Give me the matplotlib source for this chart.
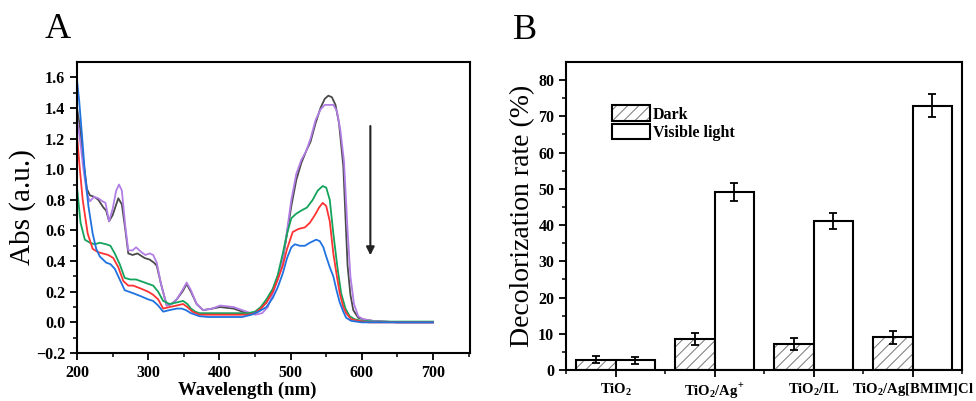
import numpy as np
import matplotlib
matplotlib.use("Agg")
import matplotlib.pyplot as plt
from matplotlib.patches import Patch

plt.rcParams['font.family'] = ['Liberation Serif', 'DejaVu Serif']
plt.rcParams['mathtext.fontset'] = 'custom'
plt.rcParams['mathtext.rm'] = 'Liberation Serif'
plt.rcParams['mathtext.bf'] = 'Liberation Serif:bold'
plt.rcParams['hatch.linewidth'] = 0.7

# ---------- panel A: UV-vis spectra ----------
wl_black = [200, 204, 209, 214, 218, 224, 230, 237, 241, 245, 250, 258, 263, 268, 272, 278, 285, 295,
            302, 308, 312, 318, 326, 333, 340, 348, 354, 360, 368, 377, 390, 401, 420, 438, 450, 456,
            466, 475, 482, 489, 495, 501, 508, 515, 522, 528, 535, 542, 548, 553, 558, 563, 568, 574,
            580, 584, 588, 595, 602, 615, 650, 700]
abs_black = [1.40, 1.28, 1.05, 0.87, 0.83, 0.82, 0.80, 0.75, 0.73, 0.66, 0.70, 0.81, 0.77, 0.60, 0.45,
             0.44, 0.45, 0.42, 0.41, 0.39, 0.37, 0.25, 0.11, 0.12, 0.15, 0.20, 0.25, 0.20, 0.12, 0.08,
             0.09, 0.10, 0.09, 0.06, 0.06, 0.08, 0.13, 0.21, 0.30, 0.41, 0.58, 0.76, 0.93, 1.04, 1.12,
             1.18, 1.30, 1.40, 1.46, 1.48, 1.47, 1.42, 1.30, 1.02, 0.37, 0.18, 0.08, 0.03, 0.02, 0.01,
             0.0, 0.0]

wl_purple = [200, 204, 209, 214, 218, 224, 230, 236, 240, 245, 250, 255, 259, 263, 268, 272, 278, 283,
             290, 296, 302, 307, 312, 318, 326, 333, 340, 348, 354, 360, 368, 377, 390, 401, 420, 438,
             450, 460, 468, 476, 483, 489, 495, 501, 508, 515, 522, 528, 535, 542, 548, 554, 560, 565,
             570, 575, 580, 584, 589, 595, 602, 615, 650, 700]
abs_purple = [1.33, 1.20, 1.00, 0.84, 0.79, 0.82, 0.81, 0.79, 0.78, 0.66, 0.74, 0.86, 0.90, 0.86, 0.62,
              0.47, 0.47, 0.49, 0.46, 0.44, 0.45, 0.44, 0.39, 0.25, 0.11, 0.12, 0.15, 0.21, 0.26, 0.21,
              0.12, 0.08, 0.09, 0.11, 0.10, 0.07, 0.05, 0.06, 0.10, 0.20, 0.30, 0.41, 0.60, 0.80, 0.97,
              1.06, 1.12, 1.20, 1.32, 1.39, 1.42, 1.42, 1.42, 1.38, 1.25, 1.05, 0.60, 0.30, 0.12, 0.04,
              0.02, 0.01, 0.0, 0.0]

wl_green = [200, 205, 211, 218, 225, 232, 241, 247, 253, 260, 267, 275, 283, 295, 307, 314, 321, 330,
            340, 349, 355, 360, 366, 372, 385, 410, 440, 450, 458, 466, 475, 482, 489, 495, 501, 508,
            515, 523, 531, 538, 545, 550, 555, 560, 566, 571, 577, 583, 590, 600, 620, 700]
abs_green = [0.88, 0.65, 0.54, 0.52, 0.51, 0.52, 0.51, 0.50, 0.45, 0.38, 0.29, 0.28, 0.28, 0.26, 0.24,
             0.20, 0.14, 0.12, 0.13, 0.14, 0.12, 0.09, 0.07, 0.06, 0.06, 0.06, 0.06, 0.07, 0.10, 0.15,
             0.22, 0.31, 0.45, 0.58, 0.68, 0.71, 0.73, 0.75, 0.80, 0.86, 0.89, 0.88, 0.80, 0.58, 0.35,
             0.19, 0.09, 0.04, 0.02, 0.01, 0.005, 0.005]

wl_red = [200, 204, 208, 215, 222, 229, 236, 244, 251, 258, 265, 272, 279, 290, 300, 307, 314, 321,
          330, 340, 349, 355, 362, 372, 385, 410, 440, 450, 458, 466, 475, 482, 489, 495, 503, 511,
          520, 527, 534, 540, 545, 550, 555, 560, 565, 569, 574, 578, 585, 595, 610, 700]
abs_red = [1.22, 1.00, 0.80, 0.58, 0.48, 0.46, 0.45, 0.44, 0.42, 0.36, 0.27, 0.24, 0.24, 0.22, 0.20,
           0.18, 0.15, 0.09, 0.10, 0.11, 0.12, 0.10, 0.07, 0.05, 0.05, 0.05, 0.05, 0.06, 0.09, 0.13,
           0.20, 0.28, 0.37, 0.48, 0.59, 0.61, 0.62, 0.65, 0.70, 0.75, 0.78, 0.76, 0.66, 0.45, 0.30,
           0.19, 0.10, 0.06, 0.02, 0.01, 0.0, 0.0]

wl_blue = [200, 203, 207, 211, 216, 222, 227, 232, 241, 247, 253, 260, 267, 273, 279, 290, 300, 307,
           314, 321, 330, 340, 347, 353, 360, 372, 385, 410, 432, 445, 455, 466, 475, 482, 489, 495,
           501, 506, 513, 520, 527, 536, 541, 546, 550, 555, 560, 565, 569, 574, 578, 585, 600, 700]
abs_blue = [1.58, 1.45, 1.22, 0.98, 0.76, 0.58, 0.48, 0.43, 0.39, 0.38, 0.35, 0.28, 0.21, 0.20, 0.19,
            0.17, 0.15, 0.14, 0.11, 0.07, 0.08, 0.09, 0.09, 0.08, 0.06, 0.04, 0.035, 0.035, 0.035, 0.05,
            0.07, 0.10, 0.16, 0.23, 0.32, 0.42, 0.49, 0.51, 0.50, 0.50, 0.52, 0.54, 0.53, 0.49, 0.43,
            0.36, 0.30, 0.20, 0.13, 0.07, 0.03, 0.01, 0.0, 0.0]

spectra = [
    (wl_black, abs_black, '#4a4a4a'),
    (wl_purple, abs_purple, '#b27ee6'),
    (wl_green, abs_green, '#14a35c'),
    (wl_red, abs_red, '#ff3333'),
    (wl_blue, abs_blue, '#1f72e0'),
]

# ---------- panel B: decolorization rate ----------
samples = ['TiO$_\\mathbf{2}$', 'TiO$_\\mathbf{2}$/Ag$^\\mathbf{+}$', 'TiO$_\\mathbf{2}$/IL',
           'TiO$_\\mathbf{2}$/Ag[BMIM]Cl']
dark = [2.8, 8.6, 7.2, 9.0]
dark_err = [1.0, 1.6, 1.7, 1.8]
visible = [2.7, 49.1, 41.1, 73.0]
visible_err = [1.0, 2.4, 2.3, 3.3]

fig = plt.figure(figsize=(9.76, 4.01), dpi=100)

axA = fig.add_axes([0.0789, 0.1197, 0.4027, 0.7257])
for wl, ab, col in spectra:
    axA.plot(wl, ab, color=col, lw=1.3)
axA.annotate('', xy=(612, 0.42), xytext=(612, 1.30),
             arrowprops=dict(arrowstyle='-|>', color='#222222', lw=1.5, mutation_scale=12))
axA.set_xlim(200, 752)
axA.set_ylim(-0.2, 1.7)
axA.set_xticks(np.arange(200, 701, 100))
axA.set_xticks(np.arange(250, 751, 100), minor=True)
axA.set_yticks(np.arange(-0.2, 1.61, 0.2))
axA.set_yticks(np.arange(-0.1, 1.7, 0.2), minor=True)
axA.set_yticklabels(['\u22120.2'] + ['%.1f' % v for v in np.arange(0, 1.61, 0.2)])
axA.set_xlabel('Wavelength (nm)', fontsize=13.5, fontweight='bold')
axA.xaxis.set_label_coords(0.433, -0.1)
axA.set_ylabel('Abs (a.u.)', fontsize=21, labelpad=0)
axA.text(-0.048, 1.11, 'A', transform=axA.transAxes, fontsize=26, ha='center', va='center')

axB = fig.add_axes([0.580, 0.0773, 0.4057, 0.768])
x = np.arange(1, 5)
w = 0.4
# hatch drawn in grey, outline in black
axB.bar(x - w / 2, dark, w, color='white', edgecolor='#777777', hatch='///', lw=0)
axB.bar(x - w / 2, dark, w, fill=False, edgecolor='black', lw=1.5)
axB.bar(x + w / 2, visible, w, color='white', edgecolor='black', lw=1.5)
axB.errorbar(x - w / 2, dark, yerr=dark_err, fmt='none', ecolor='black', elinewidth=1.3,
             capsize=3, capthick=1.3)
axB.errorbar(x + w / 2, visible, yerr=visible_err, fmt='none', ecolor='black', elinewidth=1.3,
             capsize=3, capthick=1.3)
axB.set_xlim(0.5, 4.5)
axB.set_ylim(0, 85)
axB.set_xticks(x)
axB.set_xticks(np.arange(0.5, 4.6, 1), minor=True)
axB.set_xticklabels(samples)
axB.set_yticks(np.arange(0, 81, 10))
axB.set_yticks(np.arange(5, 85, 10), minor=True)
axB.set_ylabel('Decolorization rate (%)', fontsize=20, labelpad=2)
axB.text(-0.103, 1.104, 'B', transform=axB.transAxes, fontsize=26, ha='center', va='center')

h_dark = (Patch(facecolor='white', edgecolor='#777777', hatch='///', lw=0),
          Patch(fill=False, edgecolor='black', lw=1.5))
h_vis = Patch(facecolor='white', edgecolor='black', lw=1.5)
axB.legend([h_dark, h_vis], ['Dark', 'Visible light'], loc='upper left',
           bbox_to_anchor=(0.095, 0.885), frameon=False, handlelength=2.4, handleheight=1.1,
           labelspacing=0.1, handletextpad=0.2, borderpad=0,
           prop={'weight': 'bold', 'size': 11.5})

for ax in (axA, axB):
    for s in ax.spines.values():
        s.set_linewidth(1.5)
    ax.tick_params(which='major', direction='out', length=5, width=1.3, labelsize=11.5)
    ax.tick_params(which='minor', direction='out', length=3, width=1.1)
    for lab in ax.get_xticklabels() + ax.get_yticklabels():
        lab.set_fontweight('bold')
axB.tick_params(axis='x', which='major', labelsize=10.5, pad=3)

fig.savefig('out.png', dpi=100)
